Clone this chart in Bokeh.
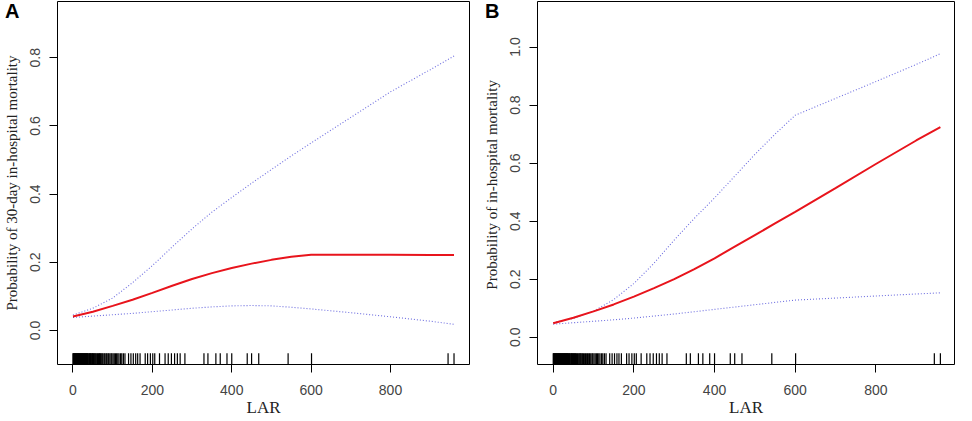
from bokeh.plotting import figure
from bokeh.models import (FixedTicker, PrintfTickFormatter, Range1d, ColumnDataSource,
                          GridBox, Div)
from bokeh.embed import file_html
from bokeh.resources import INLINE

# ---- data ----
lar = [0, 50, 100, 150, 200, 250, 300, 350, 400, 450, 500, 550, 600, 700, 800, 900, 960]

fit_a = [0.041, 0.055, 0.072, 0.090, 0.110, 0.131, 0.151, 0.168, 0.183, 0.196, 0.207, 0.216,
         0.222, 0.222, 0.222, 0.221, 0.221]
upper_a = [0.045, 0.065, 0.095, 0.140, 0.190, 0.245, 0.298, 0.347, 0.390, 0.432, 0.472, 0.512,
           0.550, 0.625, 0.700, 0.765, 0.805]
lower_a = [0.038, 0.042, 0.046, 0.050, 0.055, 0.060, 0.065, 0.069, 0.072, 0.073, 0.072, 0.068,
           0.063, 0.052, 0.040, 0.027, 0.018]

fit_b = [0.048, 0.067, 0.089, 0.113, 0.140, 0.169, 0.200, 0.235, 0.272, 0.312, 0.352, 0.392,
         0.432, 0.514, 0.597, 0.678, 0.724]
upper_b = [0.050, 0.065, 0.090, 0.130, 0.185, 0.255, 0.335, 0.410, 0.480, 0.555, 0.630, 0.700,
           0.765, 0.823, 0.881, 0.940, 0.977]
lower_b = [0.045, 0.050, 0.055, 0.060, 0.066, 0.073, 0.080, 0.088, 0.096, 0.104, 0.112, 0.120,
           0.128, 0.135, 0.142, 0.149, 0.153]

rug_lar = [0, 1, 2, 3, 4, 5, 6, 7, 8, 9, 10, 11, 12, 13, 14, 15, 16, 17, 18, 19, 20, 21, 22, 23,
           24, 25, 26, 27, 28, 29, 30, 31, 32, 33, 34, 35, 36, 37, 38, 40, 41, 42, 44, 45, 46, 48,
           49, 50, 52, 53, 55, 56, 58, 60, 62, 64, 66, 67, 69, 71, 73, 75, 78, 80, 83, 85, 88, 90,
           93, 96, 98, 101, 104, 107, 110, 113, 116, 120, 123, 127, 131, 140, 146, 152, 158, 163,
           169, 182, 188, 195, 201, 206, 218, 232, 240, 248, 256, 263, 270, 282, 330, 340, 360,
           371, 388, 400, 439, 450, 468, 542, 601, 945, 960]

x_ticks = [0, 200, 400, 600, 800]
y_ticks_a = [0.0, 0.2, 0.4, 0.6, 0.8]
y_ticks_b = [0.0, 0.2, 0.4, 0.6, 0.8, 1.0]

SANS = "Liberation Sans"
SERIF = "Liberation Serif"


def make_panel(ylabel, fit, upper, lower, xr, yr, yticks, width, height,
               b_left, b_right, b_bottom):
    p = figure(width=width, height=height, output_backend="svg", toolbar_location=None,
               x_range=Range1d(*xr), y_range=Range1d(*yr),
               min_border_left=b_left, min_border_right=b_right,
               min_border_top=1, min_border_bottom=b_bottom)
    p.xgrid.visible = False
    p.ygrid.visible = False
    p.outline_line_color = "black"
    p.outline_line_width = 1
    p.background_fill_color = "white"
    p.border_fill_color = "white"

    src = ColumnDataSource(dict(x=lar, fit=fit, up=upper, lo=lower))
    p.line("x", "up", source=src, line_color="#4a4ad8", line_width=1.1,
           line_dash="1 2", line_alpha=0.8)
    p.line("x", "lo", source=src, line_color="#4a4ad8", line_width=1.1,
           line_dash="1 2", line_alpha=0.8)
    p.line("x", "fit", source=src, line_color="#e8141c", line_width=2)

    y0 = yr[0]
    y1 = yr[0] + 0.031 * (yr[1] - yr[0])
    rsrc = ColumnDataSource(dict(x=rug_lar))
    p.segment(x0="x", x1="x", y0=y0, y1=y1, source=rsrc, line_color="black",
              line_width=1.2, line_alpha=1.0)

    for ax in (p.xaxis[0], p.yaxis[0]):
        ax.axis_line_color = None
        ax.major_tick_in = 0
        ax.major_tick_out = 8
        ax.major_tick_line_color = "black"
        ax.minor_tick_line_color = None
        ax.major_label_text_font = SANS
        ax.major_label_text_font_size = "14px"
        ax.major_label_text_color = "#444444"
        ax.axis_label_text_font = SERIF
        ax.axis_label_text_font_style = "normal"
        ax.axis_label_text_color = "#222222"

    p.xaxis.ticker = FixedTicker(ticks=x_ticks)
    p.xaxis.major_label_standoff = 12
    p.xaxis.axis_label = "LAR"
    p.xaxis.axis_label_text_font_size = "17px"
    p.xaxis.axis_label_standoff = 0

    p.yaxis.ticker = FixedTicker(ticks=yticks)
    p.yaxis.formatter = PrintfTickFormatter(format="%.1f")
    p.yaxis.major_label_orientation = "vertical"
    p.yaxis.major_label_standoff = 9
    p.yaxis.axis_label = ylabel
    p.yaxis.axis_label_text_font_size = "15px"
    p.yaxis.axis_label_standoff = 8
    return p


def letter_div(letter, pad_left):
    return Div(text=letter, width=36, height=26, margin=(0, 0, 0, 0),
               styles={"font-family": SANS, "font-size": "20px", "font-weight": "bold",
                       "color": "black", "padding-left": f"{pad_left}px",
                       "line-height": "22px", "z-index": "10"})


pa = make_panel("Probability of 30-day in-hospital mortality", fit_a, upper_a, lower_a,
                (-39, 999), (-0.1, 0.965), y_ticks_a, 474, 420, 55, 5, 56)
pb = make_panel("Probability of in-hospital  mortality", fit_b, upper_b, lower_b,
                (-39, 995), (-0.094, 1.157), y_ticks_b, 482, 420, 63, 2, 52)

layout = GridBox(children=[(pa, 0, 0), (pb, 0, 1),
                           (letter_div("A", 5), 0, 0), (letter_div("B", 11), 0, 1)])
open("out.html", "w").write(file_html(layout, INLINE))
